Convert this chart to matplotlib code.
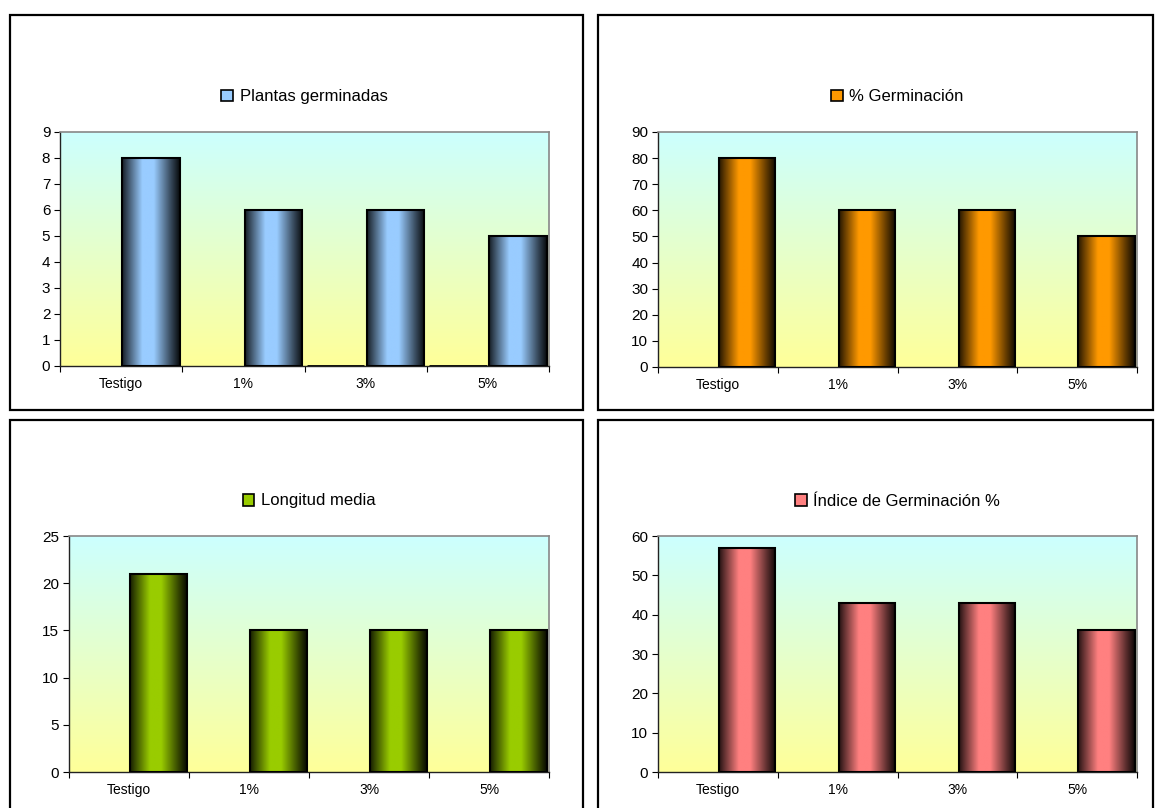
import numpy as np
import matplotlib
matplotlib.use("Agg")
import matplotlib.pyplot as plt
from matplotlib.patches import Rectangle, Patch
from matplotlib.colors import to_rgb

plt.rcParams['font.family'] = ['Liberation Sans', 'DejaVu Sans']

categorias = ['Testigo', '1%', '3%', '5%']
plantas = [8, 6, 6, 5]
plantas_vacia = [np.nan, np.nan, 0, 0]   # serie sin datos (solo borde)
germinacion = [80, 60, 60, 50]
longitud = [21, 15, 15, 15]
indice = [57, 43, 43, 36]

W, H = 1160, 808
fig = plt.figure(figsize=(W / 100, H / 100), dpi=100)


def px_axes(x0, y0, x1, y1):
    return fig.add_axes([x0 / W, (H - y1) / H, (x1 - x0) / W, (y1 - y0) / H])


def marco(x0, y0, x1, y1):
    fig.patches.append(Rectangle((x0 / W, (H - y1) / H), (x1 - x0) / W, (y1 - y0) / H,
                                 transform=fig.transFigure, fill=False,
                                 edgecolor='black', linewidth=1.6))


def fondo(ax):
    # degradado cian -> amarillo claro
    top = np.array(to_rgb('#ccffff'))
    bot = np.array(to_rgb('#ffff99'))
    t = np.linspace(0, 1, 256)[:, None]
    img = top * (1 - t) + bot * t
    ax.imshow(img[:, None, :], extent=(0, 1, 0, 1), transform=ax.transAxes,
              aspect='auto', zorder=0)


def barra(ax, x, ancho, alto, color):
    base = np.array(to_rgb(color))
    t = np.linspace(0, 1, 120)
    f = np.interp(t, [0, 0.08, 0.35, 0.55, 0.85, 1.0], [0.15, 0.35, 1.0, 1.0, 0.35, 0.05])
    img = base[None, :] * f[:, None]
    ax.imshow(img[None, :, :], extent=(x, x + ancho, 0, alto), aspect='auto',
              zorder=2, interpolation='bilinear')
    ax.add_patch(Rectangle((x, 0), ancho, alto, fill=False, edgecolor='black',
                           linewidth=1.5, zorder=3))


def grafico(ax, valores, color, etiqueta, ymax, paso, vacia=None):
    fondo(ax)
    n = len(categorias)
    for i, v in enumerate(valores):
        barra(ax, i + 0.01, 0.47, v, color)
    if vacia is not None:
        for i, v in enumerate(vacia):
            if not np.isnan(v):
                ax.add_patch(Rectangle((i - 0.48, 0), 0.47, v, fill=False,
                                       edgecolor='black', linewidth=2, zorder=3))
    ax.set_xlim(-0.5, n - 0.5)
    ax.set_ylim(0, ymax)
    ax.set_yticks(np.arange(0, ymax + paso / 2, paso))
    ax.set_xticks(np.arange(n + 1) - 0.5)
    ax.set_xticklabels([])
    ax.set_xticks(np.arange(n), minor=True)
    ax.set_xticklabels(categorias, minor=True, fontsize=10)
    ax.tick_params(axis='x', which='minor', length=0, pad=8)
    ax.tick_params(axis='x', which='major', length=4, direction='out', width=0.8)
    ax.tick_params(axis='y', length=4, direction='out', width=0.8, labelsize=11, pad=3)
    for s in ('top', 'right'):
        ax.spines[s].set_color('#888888')
        ax.spines[s].set_linewidth(1.2)
    for s in ('left', 'bottom'):
        ax.spines[s].set_color('#222222')
        ax.spines[s].set_linewidth(1)
    alto_px = ax.get_position().height * H
    ax.legend(handles=[Patch(facecolor=color, edgecolor='black', linewidth=1.2)],
              labels=[etiqueta], loc='center', frameon=False, fontsize=12,
              bbox_to_anchor=(0.5, 1 + 35 / alto_px), handlelength=0.7,
              handleheight=0.7, handletextpad=0.4, borderaxespad=0)


marco(10, 15, 583, 410)
marco(598, 15, 1153, 410)
marco(10, 420, 583, 820)
marco(598, 420, 1153, 820)

ax1 = px_axes(60, 132, 549, 366)
grafico(ax1, plantas, '#99ccff', 'Plantas germinadas', 9, 1, vacia=plantas_vacia)

ax2 = px_axes(658, 132, 1137, 367)
grafico(ax2, germinacion, '#ff9900', '% Germinación', 90, 10)

ax3 = px_axes(69, 536, 549, 772)
grafico(ax3, longitud, '#99cc00', 'Longitud media', 25, 5)

ax4 = px_axes(658, 536, 1137, 772)
grafico(ax4, indice, '#ff8080', 'Índice de Germinación %', 60, 10)

fig.savefig('out.png', dpi=100)
